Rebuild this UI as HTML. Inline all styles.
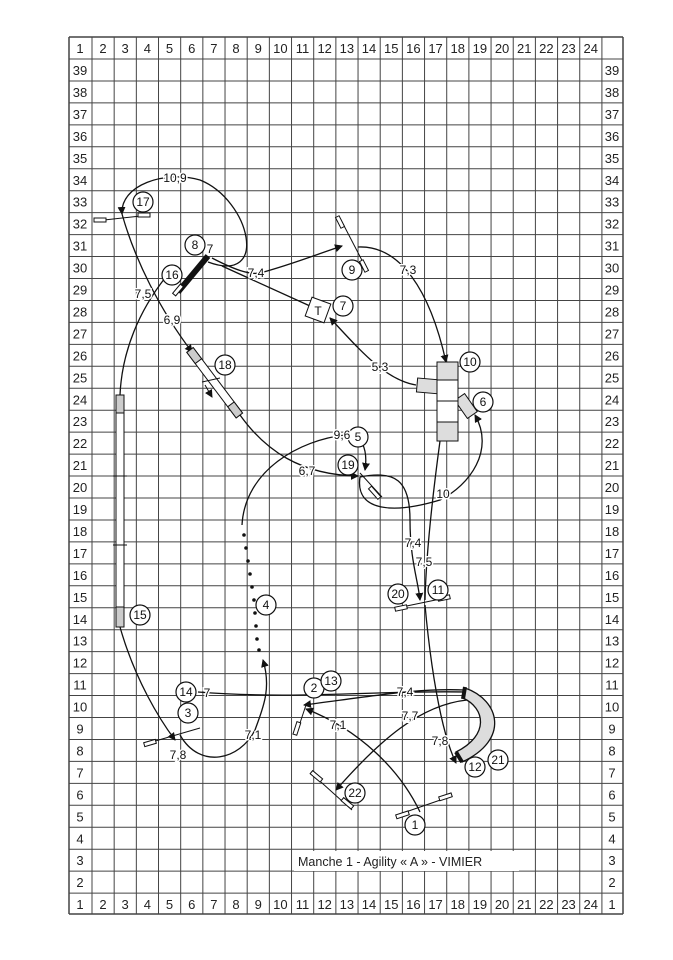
<!DOCTYPE html>
<html><head><meta charset="utf-8"><style>
html,body{margin:0;padding:0;background:#fff;}
svg{display:block;font-family:"Liberation Sans",sans-serif;}
</style></head><body>
<svg width="673" height="960" viewBox="0 0 673 960" xmlns="http://www.w3.org/2000/svg">
<defs>
<marker id="a" markerWidth="8" markerHeight="8" refX="7" refY="4" orient="auto" markerUnits="userSpaceOnUse"><path d="M0,0 L8,4 L0,8 z" fill="#111"/></marker>
</defs>
<rect width="673" height="960" fill="#fff"/>
<g id="grid" stroke="#444" stroke-width="1"></g>
<g id="labels" font-size="13" fill="#222" text-anchor="middle"></g>
<script>
var g=document.getElementById('grid'),L=document.getElementById('labels'),ns='http://www.w3.org/2000/svg';
function ln(x1,y1,x2,y2,w){var e=document.createElementNS(ns,'line');e.setAttribute('x1',x1);e.setAttribute('y1',y1);e.setAttribute('x2',x2);e.setAttribute('y2',y2);if(w)e.setAttribute('stroke-width',w);g.appendChild(e);}
function tx(x,y,s){var e=document.createElementNS(ns,'text');e.setAttribute('x',x);e.setAttribute('y',y);e.textContent=s;L.appendChild(e);}
var xs=[69];for(var k=0;k<=23;k++)xs.push(92+22.17*k);xs.push(623);
var ys=[37];for(var k=0;k<=38;k++)ys.push(59+21.95*k);ys.push(914);
xs.forEach(function(x,i){ln(x,37,x,914,(i==0||i==xs.length-1)?1.5:1);});
ys.forEach(function(y,i){ln(69,y,623,y,(i==0||i==ys.length-1)?1.5:1);});
tx(80,53,'1');for(var c=2;c<=24;c++){tx(92+22.17*(c-2)+11,53,String(c));tx(92+22.17*(c-2)+11,909,String(c));}
tx(80,909,'1');
for(var r=39;r>=2;r--){var y=59+(39-r)*21.95+16;tx(80,y,String(r));tx(612,y,String(r));}
tx(612,909,'1');
</script>
<g fill="none" stroke="#111" stroke-width="1.3">
<path d="M208,262 C270,285 250,200 200,180 C165,170 120,185 122,214" marker-end="url(#a)"/>
<path d="M122,214 C135,260 160,310 192,352" marker-end="url(#a)"/>
<path d="M165,278 C140,310 122,350 120,395"/>
<path d="M212,258 C235,270 250,275 260,273 C290,265 315,255 342,246" marker-end="url(#a)"/>
<path d="M222,266 L310,306"/>
<path d="M358,247 C400,245 430,290 446,362" marker-end="url(#a)"/>
<path d="M416,385 C385,380 360,350 330,318" marker-end="url(#a)"/>
<path d="M240,415 C265,450 300,475 358,476" marker-end="url(#a)"/>
<path d="M242,525 C245,470 300,440 345,435 C362,432 368,450 365,470" marker-end="url(#a)"/>
<path d="M360,477 C395,470 410,480 410,520 C410,560 418,580 420,600" marker-end="url(#a)"/>
<path d="M360,477 C355,510 390,515 440,500 C470,485 495,450 475,415" marker-end="url(#a)"/>
<path d="M440,441 C432,500 426,560 425,600"/>
<path d="M425,605 C430,660 440,730 456,763" marker-end="url(#a)"/>
<path d="M120,627 C135,680 160,720 175,740" marker-end="url(#a)"/>
<path d="M180,735 C200,770 240,760 255,730 C262,710 272,690 263,660" marker-end="url(#a)"/>
<path d="M198,692 C300,700 380,690 465,692"/>
<path d="M465,690 C420,688 380,695 304,705" marker-end="url(#a)"/>
<path d="M420,812 C400,770 360,730 306,709" marker-end="url(#a)"/>
<path d="M467,700 C420,705 380,740 336,790" marker-end="url(#a)"/>
</g>
<g fill="#111">
<circle cx="244" cy="535" r="1.8"/><circle cx="246" cy="548" r="1.8"/><circle cx="248" cy="561" r="1.8"/><circle cx="250" cy="574" r="1.8"/><circle cx="252" cy="587" r="1.8"/><circle cx="254" cy="600" r="1.8"/><circle cx="255" cy="613" r="1.8"/><circle cx="256" cy="626" r="1.8"/><circle cx="257" cy="639" r="1.8"/><circle cx="259" cy="650" r="1.8"/>
</g>
<!-- obstacles -->
<g stroke="#111" stroke-width="1">
<line x1="95" y1="221" x2="150" y2="215"/><rect x="94" y="218" width="12" height="4" fill="#fff"/><rect x="138" y="213" width="12" height="4" fill="#fff"/>
<line x1="340" y1="218" x2="367" y2="270"/><rect x="338" y="216" width="4" height="12" fill="#fff" transform="rotate(-27 340 222)"/><rect x="362" y="260" width="4" height="12" fill="#fff" transform="rotate(-27 364 266)"/>
<line x1="397" y1="608" x2="450" y2="597"/><rect x="395" y="606" width="12" height="4" fill="#fff" transform="rotate(-12 401 608)"/><rect x="438" y="596" width="12" height="4" fill="#fff" transform="rotate(-12 444 598)"/>
<line x1="145" y1="744" x2="200" y2="728"/><rect x="144" y="741" width="12" height="4" fill="#fff" transform="rotate(-16 150 743)"/>
<line x1="296" y1="735" x2="306" y2="705"/><rect x="295" y="722" width="4" height="13" fill="#fff" transform="rotate(18 297 728)"/>
<line x1="397" y1="815" x2="452" y2="796"/><rect x="396" y="813" width="13" height="4" fill="#fff" transform="rotate(-18 402 815)"/><rect x="439" y="795" width="13" height="4" fill="#fff" transform="rotate(-18 445 797)"/>
<line x1="312" y1="774" x2="352" y2="810"/><rect x="310" y="774" width="13" height="4" fill="#fff" transform="rotate(40 316 776)"/><rect x="341" y="801" width="13" height="4" fill="#fff" transform="rotate(40 347 803)"/>
<line x1="360" y1="473" x2="382" y2="497"/><rect x="372" y="486" width="4" height="14" fill="#fff" transform="rotate(-42 374 492)"/>
<line x1="178" y1="292" x2="208" y2="256" stroke-width="6"/><rect x="176" y="284" width="4" height="12" fill="#fff" transform="rotate(40 178 290)"/>
<rect x="308" y="300" width="20" height="20" fill="#fff" transform="rotate(20 318 310)"/>
<!-- 18 tunnel -->
<g transform="rotate(53 190 350)"><rect x="190" y="346" width="82" height="8" fill="#fff"/><rect x="190" y="346" width="14" height="8" fill="#ccc"/><rect x="258" y="346" width="14" height="8" fill="#ccc"/></g>
<line x1="202" y1="382" x2="220" y2="378"/><path d="M205,385 L212,397" marker-end="url(#a)" fill="none"/>
<!-- 15 dogwalk -->
<rect x="116" y="395" width="8" height="232" fill="#fff"/><rect x="116" y="395" width="8" height="18" fill="#ccc"/><rect x="116" y="607" width="8" height="20" fill="#ccc"/>
<line x1="116" y1="476" x2="124" y2="476"/><line x1="116" y1="545" x2="124" y2="545"/>
<line x1="113" y1="476" x2="127" y2="476"/><line x1="113" y1="545" x2="127" y2="545"/>
<!-- 10 -->
<rect x="417" y="379" width="24" height="14" fill="#ddd" transform="rotate(5 429 386)"/>
<rect x="460" y="395" width="12" height="22" fill="#ddd" transform="rotate(-35 466 406)"/>
<rect x="437" y="362" width="21" height="79" fill="#fff"/>
<rect x="437" y="362" width="21" height="18" fill="#ddd"/><rect x="437" y="422" width="21" height="19" fill="#ddd"/>
<line x1="437" y1="380" x2="458" y2="380"/><line x1="437" y1="401" x2="458" y2="401"/><line x1="437" y1="422" x2="458" y2="422"/>
<!-- 12 tunnel -->
<path d="M465,688 C500,700 510,740 462,762 L456,752 C490,735 485,708 463,698 z" fill="#ddd" stroke="#111" stroke-width="1.3"/>
<line x1="465" y1="687" x2="463" y2="699" stroke-width="4"/><line x1="462" y1="762" x2="456" y2="752" stroke-width="4"/>
</g>
<g font-size="12" fill="#111" text-anchor="middle">
<text x="318" y="315">T</text>
</g>
<g stroke="#111" stroke-width="1.2" fill="#fff">
<circle cx="143" cy="202" r="10"/><circle cx="195" cy="245" r="10"/><circle cx="172" cy="275" r="10"/><circle cx="352" cy="270" r="10"/><circle cx="343" cy="306" r="10"/><circle cx="225" cy="365" r="10"/><circle cx="470" cy="362" r="10"/><circle cx="483" cy="402" r="10"/><circle cx="358" cy="437" r="10"/><circle cx="348" cy="465" r="10"/><circle cx="398" cy="594" r="10"/><circle cx="438" cy="590" r="10"/><circle cx="266" cy="605" r="10"/><circle cx="140" cy="615" r="10"/><circle cx="186" cy="692" r="10"/><circle cx="188" cy="713" r="10"/><circle cx="314" cy="688" r="10"/><circle cx="331" cy="681" r="10"/><circle cx="475" cy="767" r="10"/><circle cx="498" cy="760" r="10"/><circle cx="355" cy="793" r="10"/><circle cx="415" cy="825" r="10"/>
</g>
<g font-size="12" fill="#111" text-anchor="middle">
<text x="143" y="206">17</text><text x="195" y="249">8</text><text x="172" y="279">16</text><text x="352" y="274">9</text><text x="343" y="310">7</text><text x="225" y="369">18</text><text x="470" y="366">10</text><text x="483" y="406">6</text><text x="358" y="441">5</text><text x="348" y="469">19</text><text x="398" y="598">20</text><text x="438" y="594">11</text><text x="266" y="609">4</text><text x="140" y="619">15</text><text x="186" y="696">14</text><text x="188" y="717">3</text><text x="314" y="692">2</text><text x="331" y="685">13</text><text x="475" y="771">12</text><text x="498" y="764">21</text><text x="355" y="797">22</text><text x="415" y="829">1</text>
</g>
<g font-size="12" fill="#111" text-anchor="middle" stroke="#fff" stroke-width="3" paint-order="stroke">
<text x="175" y="182">10,9</text><text x="210" y="253">7</text><text x="256" y="277">7,4</text><text x="143" y="298">7,5</text><text x="172" y="324">6,9</text><text x="408" y="274">7,3</text><text x="380" y="371">5,3</text><text x="342" y="439">9,6</text><text x="307" y="475">6,7</text><text x="443" y="498">10</text><text x="413" y="547">7,4</text><text x="424" y="566">7,5</text><text x="207" y="697">7</text><text x="405" y="696">7,4</text><text x="253" y="739">7,1</text><text x="338" y="729">7,1</text><text x="410" y="720">7,7</text><text x="440" y="745">7,8</text><text x="178" y="759">7,8</text>
</g>
<rect x="294" y="851" width="225" height="20" fill="#fff"/>
<text x="298" y="866" font-size="12.5" fill="#222">Manche 1 - Agility « A » - VIMIER</text>
</svg>
</body></html>
